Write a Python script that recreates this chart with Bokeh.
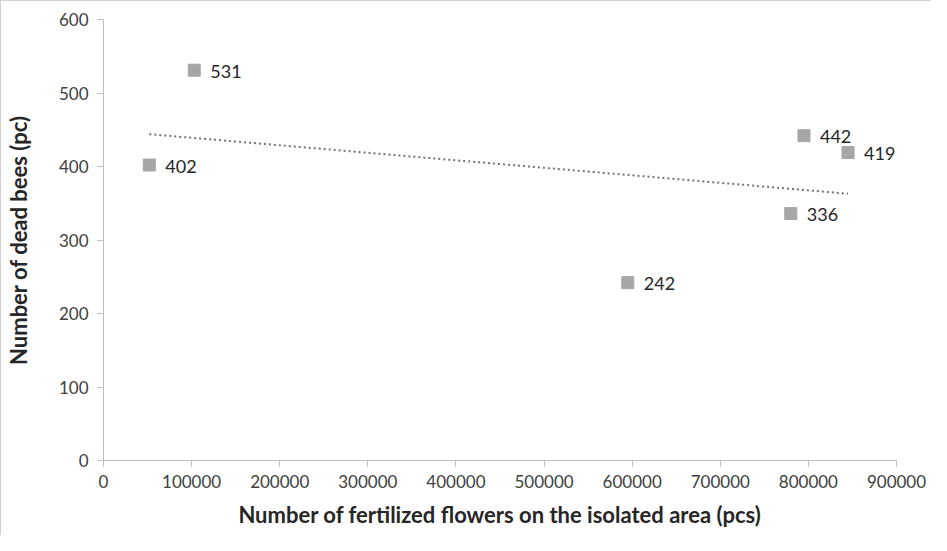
import numpy as np
from bokeh.plotting import figure
from bokeh.models import ColumnDataSource, FixedTicker, NumeralTickFormatter, Range1d
from bokeh.core.properties import value
from bokeh.embed import file_html
from bokeh.resources import INLINE

flowers = [52000, 103000, 595000, 780000, 795000, 845000]
dead_bees = [402, 531, 242, 336, 442, 419]
labels = ["402", "531", "242", "336", "442", "419"]
x_ticks = [0, 100000, 200000, 300000, 400000, 500000, 600000, 700000, 800000, 900000]
y_ticks = [0, 100, 200, 300, 400, 500, 600]

FONT = "Lato"

p = figure(width=931, height=535, output_backend="svg", toolbar_location=None,
           x_range=Range1d(0, 900000), y_range=Range1d(0, 600),
           min_border_left=102, min_border_right=36, min_border_top=18, min_border_bottom=76)
p.styles = {"border-left": "1px solid #d0d0d0", "border-top": "1px solid #d0d0d0"}
p.outline_line_color = None
p.xgrid.visible = False
p.ygrid.visible = False

src = ColumnDataSource(dict(x=flowers, y=dead_bees, t=labels))

# trendline (least squares)
slope, intercept = np.polyfit(flowers, dead_bees, 1)
xs = [min(flowers), max(flowers)]
ys = [slope * v + intercept for v in xs]
p.line(xs, ys, line_color="#737373", line_width=2, line_dash="2 3")

p.scatter("x", "y", source=src, marker="square", size=12, fill_color="#a6a6a6", line_color="#a6a6a6")
p.text("x", "y", text="t", source=src, x_offset=16, y_offset=1, text_baseline="middle",
       text_font=value(FONT), text_font_size="18px", text_color="#262626")

for ax in (p.xaxis, p.yaxis):
    ax.axis_line_color = "#bfbfbf"
    ax.major_tick_line_color = "#bfbfbf"
    ax.major_tick_out = 6
    ax.major_tick_in = 0
    ax.minor_tick_line_color = None
    ax.major_label_text_font = FONT
    ax.major_label_text_font_size = "17px"
    ax.major_label_text_color = "#404040"
    ax.axis_label_text_font = FONT
    ax.axis_label_text_font_size = "22px"
    ax.axis_label_text_font_style = "bold"
    ax.axis_label_text_color = "#262626"

p.xaxis.ticker = FixedTicker(ticks=x_ticks)
p.yaxis.ticker = FixedTicker(ticks=y_ticks)
p.xaxis.formatter = NumeralTickFormatter(format="0")
p.yaxis.formatter = NumeralTickFormatter(format="0")
p.xaxis.axis_label = "Number of fertilized flowers on the isolated area (pcs)"
p.yaxis.axis_label = "Number of dead bees (pc)"
p.xaxis.major_label_standoff = 8
p.yaxis.major_label_standoff = 9
p.xaxis.axis_label_standoff = 10
p.yaxis.axis_label_standoff = 24

open("out.html", "w").write(file_html(p, INLINE))
